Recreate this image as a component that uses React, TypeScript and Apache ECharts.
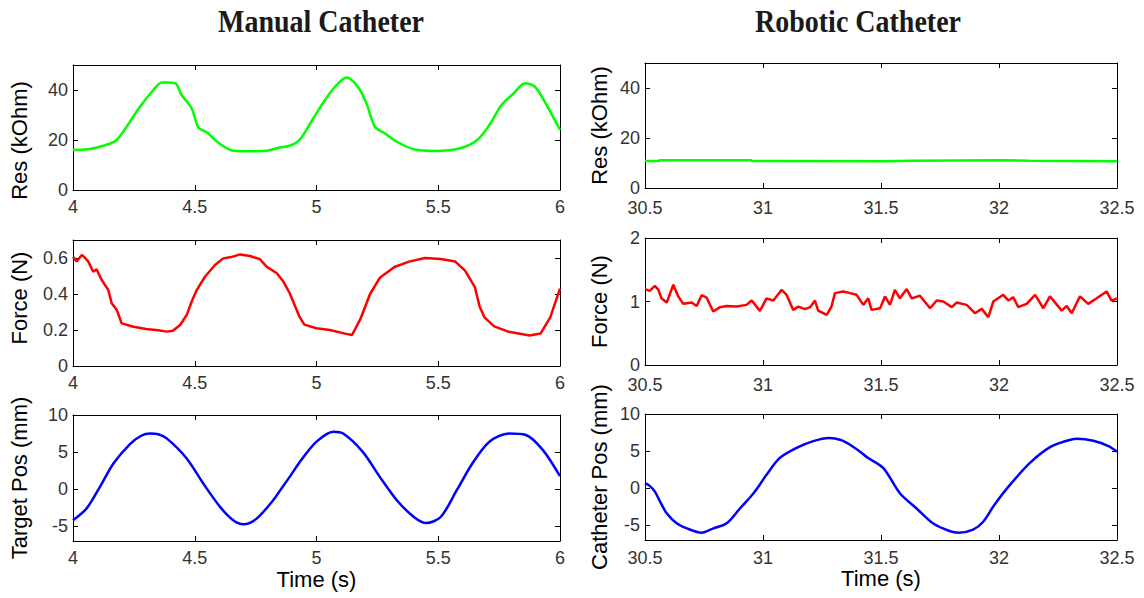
import React, { useEffect, useRef } from "react";
import * as echarts from "echarts";

// ---- Data ----
const manualTimeTicks = [4, 4.5, 5, 5.5, 6];
const roboticTimeTicks = [30.5, 31, 31.5, 32, 32.5];
const resTicks = [0, 20, 40];
const manualForceTicks = [0, 0.2, 0.4, 0.6];
const roboticForceTicks = [0, 1, 2];
const posTicks = [-5, 0, 5, 10];

const manualResT = [4.0, 4.06, 4.11, 4.15, 4.18, 4.22, 4.275, 4.33, 4.364, 4.38, 4.42, 4.446, 4.487, 4.515, 4.55, 4.6, 4.66, 4.72, 4.795, 4.85, 4.89, 4.93, 4.987, 5.035, 5.076, 5.124, 5.17, 5.205, 5.24, 5.28, 5.33, 5.4, 5.49, 5.59, 5.66, 5.71, 5.76, 5.81, 5.856, 5.897, 5.945, 6.0];
const manualResV = [16, 16.3, 17.3, 18.5, 20, 25.3, 33.3, 40, 43, 43, 42.7, 38, 32.7, 25, 23, 18.7, 15.7, 15.5, 15.7, 17, 17.7, 20, 28.7, 36, 41.3, 45, 41.3, 34.7, 25.3, 22.7, 19.3, 16.3, 15.6, 16.7, 20, 26, 34, 38.7, 42.7, 41.3, 34, 24];

const roboticResT = [30.5, 30.56, 30.561, 30.95, 30.951, 31.04, 31.041, 31.52, 31.521, 31.63, 31.631, 32.01, 32.011, 32.13, 32.131, 32.5];
const roboticResV = [10.8, 10.8, 11.1, 11.1, 10.8, 10.8, 10.7, 10.7, 10.9, 10.9, 11.1, 11.1, 10.9, 10.9, 10.7, 10.7];

const manualForceT = [4.0, 4.015, 4.036, 4.05, 4.063, 4.083, 4.097, 4.118, 4.145, 4.159, 4.18, 4.2, 4.248, 4.3, 4.35, 4.385, 4.41, 4.44, 4.467, 4.487, 4.508, 4.542, 4.583, 4.617, 4.65, 4.686, 4.727, 4.768, 4.795, 4.837, 4.864, 4.89, 4.91, 4.93, 4.95, 5.0, 5.055, 5.117, 5.146, 5.18, 5.22, 5.26, 5.32, 5.38, 5.445, 5.51, 5.57, 5.61, 5.65, 5.67, 5.69, 5.73, 5.79, 5.875, 5.92, 5.96, 6.0];
const manualForceV = [0.607, 0.58, 0.617, 0.6, 0.58, 0.524, 0.537, 0.478, 0.422, 0.348, 0.311, 0.237, 0.218, 0.206, 0.198, 0.191, 0.196, 0.228, 0.283, 0.357, 0.422, 0.496, 0.561, 0.598, 0.605, 0.62, 0.611, 0.593, 0.552, 0.515, 0.469, 0.404, 0.339, 0.274, 0.23, 0.21, 0.2, 0.18, 0.172, 0.26, 0.4, 0.49, 0.55, 0.58, 0.6, 0.595, 0.58, 0.53, 0.44, 0.33, 0.27, 0.22, 0.19, 0.17, 0.18, 0.27, 0.43];

const roboticForceT = [30.5, 30.52, 30.542, 30.557, 30.57, 30.592, 30.62, 30.641, 30.662, 30.698, 30.719, 30.74, 30.761, 30.789, 30.818, 30.846, 30.888, 30.93, 30.952, 30.987, 31.015, 31.044, 31.079, 31.1, 31.128, 31.15, 31.178, 31.2, 31.22, 31.234, 31.27, 31.29, 31.305, 31.34, 31.369, 31.397, 31.425, 31.446, 31.46, 31.496, 31.517, 31.538, 31.559, 31.58, 31.609, 31.63, 31.665, 31.708, 31.736, 31.764, 31.8, 31.82, 31.863, 31.898, 31.927, 31.955, 31.976, 32.018, 32.04, 32.06, 32.082, 32.117, 32.153, 32.188, 32.216, 32.266, 32.287, 32.308, 32.343, 32.378, 32.414, 32.456, 32.477, 32.5];
const roboticForceV = [1.195, 1.168, 1.247, 1.184, 1.05, 0.983, 1.263, 1.08, 0.963, 0.983, 0.93, 1.1, 1.062, 0.842, 0.911, 0.93, 0.92, 0.947, 1.015, 0.852, 1.05, 1.015, 1.184, 1.105, 0.868, 0.92, 0.879, 0.911, 1.015, 0.857, 0.789, 0.92, 1.132, 1.158, 1.132, 1.105, 0.947, 1.05, 0.868, 0.894, 1.08, 0.947, 1.184, 1.05, 1.195, 1.05, 1.09, 0.894, 1.015, 1.0, 0.911, 0.983, 0.947, 0.816, 0.884, 0.753, 1.0, 1.105, 1.015, 1.068, 0.911, 0.963, 1.105, 0.894, 1.08, 0.857, 0.93, 0.816, 1.08, 0.963, 1.05, 1.158, 1.015, 1.05];

const targetPosT = [4.0, 4.056, 4.11, 4.166, 4.234, 4.28, 4.316, 4.35, 4.385, 4.467, 4.535, 4.604, 4.658, 4.7, 4.754, 4.822, 4.85, 4.89, 4.93, 5.0, 5.07, 5.11, 5.19, 5.26, 5.33, 5.4, 5.45, 5.51, 5.576, 5.64, 5.71, 5.79, 5.86, 5.93, 6.0];
const targetPosV = [-4.2, -2.6, 0.27, 3.46, 6.08, 7.2, 7.5, 7.4, 6.84, 4.14, 0.75, -2.4, -4.2, -4.75, -3.98, -1.5, -0.2, 1.65, 3.6, 6.4, 7.75, 7.5, 5.03, 1.65, -1.5, -3.76, -4.57, -3.76, -0.15, 3.46, 6.4, 7.5, 7.3, 5.26, 1.74];

const catheterPosT = [30.5, 30.52, 30.542, 30.564, 30.592, 30.634, 30.677, 30.74, 30.79, 30.846, 30.903, 30.96, 31.015, 31.07, 31.14, 31.21, 31.28, 31.33, 31.369, 31.41, 31.44, 31.51, 31.58, 31.65, 31.72, 31.79, 31.83, 31.89, 31.933, 31.98, 32.04, 32.13, 32.216, 32.287, 32.33, 32.4, 32.464, 32.5];
const catheterPosV = [0.66, 0.3, -0.47, -1.83, -3.4, -4.75, -5.43, -6.02, -5.43, -4.75, -2.72, -0.69, 1.79, 4.04, 5.4, 6.3, 6.75, 6.5, 5.85, 4.94, 4.18, 2.7, -0.69, -2.72, -4.75, -5.79, -6.02, -5.6, -4.53, -2.27, 0.2, 3.37, 5.53, 6.39, 6.66, 6.39, 5.67, 4.9];

const zip = (t: number[], v: number[]) => t.map((x, i) => [x, v[i]]);

const FONT = "'Liberation Sans', Arial, sans-serif";

const panels = [
  { grid: { left: 73, top: 65, width: 487, height: 125 }, x: [4, 6], xTicks: manualTimeTicks, xMargin: 8, y: [0, 50], yTicks: resTicks, name: "Res (kOhm)", nameGap: 43, namePad: [0, 26, 0, 0], data: zip(manualResT, manualResV), color: "#00ff00", smooth: true, xName: "" },
  { grid: { left: 645, top: 63, width: 472, height: 125 }, x: [30.5, 32.5], xTicks: roboticTimeTicks, xMargin: 11, y: [0, 50], yTicks: resTicks, name: "Res (kOhm)", nameGap: 35, namePad: [0, 0, 0, 0], data: zip(roboticResT, roboticResV), color: "#00ff00", smooth: false, xName: "" },
  { grid: { left: 73, top: 240, width: 487, height: 126 }, x: [4, 6], xTicks: manualTimeTicks, xMargin: 8, y: [0, 0.7], yTicks: manualForceTicks, name: "Force (N)", nameGap: 43, namePad: [0, 0, 0, 10], data: zip(manualForceT, manualForceV), color: "#ff0000", smooth: false, xName: "" },
  { grid: { left: 645, top: 238, width: 472, height: 127 }, x: [30.5, 32.5], xTicks: roboticTimeTicks, xMargin: 11, y: [0, 2], yTicks: roboticForceTicks, name: "Force (N)", nameGap: 35, namePad: [0, 0, 0, 0], data: zip(roboticForceT, roboticForceV), color: "#ff0000", smooth: false, xName: "" },
  { grid: { left: 73, top: 415, width: 487, height: 126 }, x: [4, 6], xTicks: manualTimeTicks, xMargin: 8, y: [-7, 10], yTicks: posTicks, name: "Target Pos (mm)", nameGap: 43, namePad: [0, 0, 0, 0], data: zip(targetPosT, targetPosV), color: "#0000ff", smooth: true, xName: "Time (s)" },
  { grid: { left: 645, top: 414, width: 472, height: 126 }, x: [30.5, 32.5], xTicks: roboticTimeTicks, xMargin: 9, y: [-7, 10], yTicks: posTicks, name: "Catheter Pos (mm)", nameGap: 35, namePad: [0, 0, 0, 0], data: zip(catheterPosT, catheterPosV), color: "#0000ff", smooth: true, xName: "Time (s)" },
];

export default function App() {
  const ref = useRef<HTMLDivElement>(null);
  useEffect(() => {
    document.body.style.margin = "0";
    const chart = echarts.init(ref.current!, null, { renderer: "svg" });
    const grids: any[] = [];
    const xAxes: any[] = [];
    const yAxes: any[] = [];
    const series: any[] = [];
    panels.forEach((p, i) => {
      grids.push({ ...p.grid, show: false });
      const tickStyle = { show: true, inside: true, length: 5, lineStyle: { color: "#000", width: 1 } };
      const lineStyle = { show: true, onZero: false, lineStyle: { color: "#000", width: 1 } };
      const labelStyle = { color: "#333", fontSize: 18, fontFamily: FONT };
      xAxes.push({
        type: "value", gridIndex: i, position: "bottom", min: p.x[0], max: p.x[1],
        axisLine: lineStyle,
        axisTick: { ...tickStyle, customValues: p.xTicks },
        axisLabel: { ...labelStyle, margin: p.xMargin, customValues: p.xTicks },
        splitLine: { show: false },
        name: p.xName, nameLocation: "middle", nameGap: 27,
        nameTextStyle: { color: "#000", fontSize: 22, fontFamily: FONT },
      });
      xAxes.push({
        type: "value", gridIndex: i, position: "top", min: p.x[0], max: p.x[1],
        axisLine: lineStyle,
        axisTick: { ...tickStyle, customValues: p.xTicks },
        axisLabel: { show: false },
        splitLine: { show: false },
      });
      yAxes.push({
        type: "value", gridIndex: i, position: "left", min: p.y[0], max: p.y[1],
        axisLine: lineStyle,
        axisTick: { ...tickStyle, customValues: p.yTicks },
        axisLabel: { ...labelStyle, margin: 5, customValues: p.yTicks },
        splitLine: { show: false },
        name: p.name, nameLocation: "middle", nameGap: p.nameGap,
        nameTextStyle: { color: "#000", fontSize: 22, fontFamily: FONT, padding: p.namePad },
      });
      yAxes.push({
        type: "value", gridIndex: i, position: "right", min: p.y[0], max: p.y[1],
        axisLine: lineStyle,
        axisTick: { ...tickStyle, customValues: p.yTicks },
        axisLabel: { show: false },
        splitLine: { show: false },
      });
      series.push({
        type: "line", xAxisIndex: 2 * i, yAxisIndex: 2 * i, data: p.data,
        showSymbol: false, smooth: p.smooth ? 0.3 : false,
        lineStyle: { color: p.color, width: 2.5 }, itemStyle: { color: p.color },
      });
    });
    chart.setOption({
      animation: false,
      backgroundColor: "#fff",
      grid: grids,
      xAxis: xAxes,
      yAxis: yAxes,
      series,
      graphic: [
        { type: "text", x: 321, y: 21, scaleY: 1.15, style: { text: "Manual Catheter", textAlign: "center", textVerticalAlign: "middle", fontSize: 28, fontWeight: "bold", fontFamily: "'Liberation Serif', 'Times New Roman', serif", fill: "#1a1a1a" } },
        { type: "text", x: 858, y: 21, scaleY: 1.15, style: { text: "Robotic Catheter", textAlign: "center", textVerticalAlign: "middle", fontSize: 28, fontWeight: "bold", fontFamily: "'Liberation Serif', 'Times New Roman', serif", fill: "#1a1a1a" } },
      ],
    });
    return () => chart.dispose();
  }, []);
  return <div ref={ref} style={{ position: "absolute", left: 0, top: 0, width: 1144, height: 598 }} />;
}
